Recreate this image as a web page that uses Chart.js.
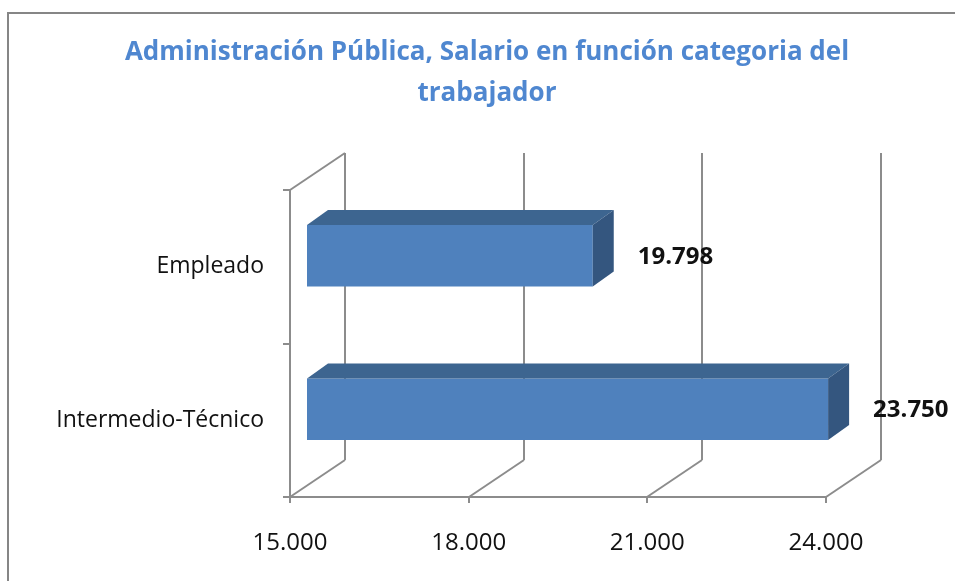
<!DOCTYPE html>
<html>
<head>
<meta charset="utf-8">
<script src="https://cdn.jsdelivr.net/npm/chart.js@4.4.1/dist/chart.umd.min.js"></script>
<style>
  body { margin: 0; background: #fff; }
</style>
</head>
<body>
<canvas id="myChart" width="955" height="581"></canvas>
<script>
var categories = ['Empleado', 'Intermedio-Técnico'];
var salaries = [19798, 23750];
var xTicks = [15000, 18000, 21000, 24000];
var titleLines = ['Administración Pública, Salario en función categoria del', 'trabajador'];

var FONT = "'Open Sans', sans-serif";
var WALL = { dx: 55, dy: -37 };   // depth of the back wall
var SHIFT = { dx: 17, dy: -11 };  // bar front face sits a bit inside
var DEPTH = { dx: 21, dy: -15 };  // bar thickness in depth

function fmt(v) {
    return String(v).replace(/\B(?=(\d{3})+(?!\d))/g, '.');
}

function line(ctx, x1, y1, x2, y2) {
    ctx.beginPath();
    ctx.moveTo(x1, y1);
    ctx.lineTo(x2, y2);
    ctx.stroke();
}

function poly(ctx, pts, color) {
    ctx.beginPath();
    ctx.moveTo(pts[0][0], pts[0][1]);
    for (var i = 1; i < pts.length; i++) ctx.lineTo(pts[i][0], pts[i][1]);
    ctx.closePath();
    ctx.fillStyle = color;
    ctx.fill();
}

// back wall, floor and axes of the 3d box
var box3d = {
    id: 'box3d',
    beforeDatasetsDraw: function (chart) {
        var ctx = chart.ctx, a = chart.chartArea, xs = chart.scales.x;
        ctx.save();
        ctx.strokeStyle = '#8c8c8c';
        ctx.lineWidth = 2;
        xTicks.forEach(function (v) {
            var px = Math.round(xs.getPixelForValue(v));
            line(ctx, px + WALL.dx, a.top + WALL.dy, px + WALL.dx, a.bottom + WALL.dy);
            line(ctx, px, a.bottom, px + WALL.dx, a.bottom + WALL.dy);
            line(ctx, px, a.bottom, px, a.bottom + 6);
        });
        line(ctx, a.left, a.top, a.left, a.bottom);
        line(ctx, a.left, a.top, a.left + WALL.dx, a.top + WALL.dy);
        line(ctx, a.left, a.bottom, a.right, a.bottom);
        var step = (a.bottom - a.top) / categories.length;
        for (var i = 0; i <= categories.length; i++) {
            var py = Math.round(a.top + i * step);
            line(ctx, a.left - 7, py, a.left, py);
        }
        ctx.restore();
        // shift the bar fronts into the box
        ctx.save();
        ctx.translate(SHIFT.dx, SHIFT.dy);
    },
    afterDatasetsDraw: function (chart) {
        var ctx = chart.ctx;
        ctx.restore();
        var meta = chart.getDatasetMeta(0);
        meta.data.forEach(function (el, i) {
            var b = el.getProps(['x', 'y', 'base', 'height'], true);
            var x0 = b.base + SHIFT.dx, x1 = b.x + SHIFT.dx;
            var y0 = b.y - b.height / 2 + SHIFT.dy, y1 = b.y + b.height / 2 + SHIFT.dy;
            poly(ctx, [[x0, y0], [x1, y0], [x1 + DEPTH.dx, y0 + DEPTH.dy], [x0 + DEPTH.dx, y0 + DEPTH.dy]], '#3d6590');
            poly(ctx, [[x1, y0], [x1 + DEPTH.dx, y0 + DEPTH.dy], [x1 + DEPTH.dx, y1 + DEPTH.dy], [x1, y1]], '#34567f');
            ctx.save();
            ctx.fillStyle = '#111';
            ctx.font = 'bold 24px ' + FONT;
            ctx.textAlign = 'left';
            ctx.textBaseline = 'middle';
            ctx.fillText(fmt(salaries[i]), b.x + 62, b.y + SHIFT.dy + 1);
            ctx.restore();
        });
    },
    afterDraw: function (chart) {
        var ctx = chart.ctx;
        ctx.save();
        ctx.strokeStyle = '#868686';
        ctx.lineWidth = 2;
        line(ctx, 8, 13, 8, chart.height);
        line(ctx, 7, 13, chart.width, 13);
        ctx.fillStyle = '#4f87d0';
        ctx.font = 'bold 26px ' + FONT;
        ctx.textAlign = 'center';
        ctx.textBaseline = 'middle';
        ctx.fillText(titleLines[0], 487, 53);
        ctx.fillText(titleLines[1], 487, 94);
        ctx.restore();
    }
};

var ctx = document.getElementById('myChart').getContext('2d');
var myChart = new Chart(ctx, {
    type: 'bar',
    data: {
        labels: categories,
        datasets: [{
            data: salaries,
            base: 15000,
            backgroundColor: '#4f81bd',
            borderWidth: 0,
            barPercentage: 0.4,
            categoryPercentage: 1.0
        }]
    },
    options: {
        indexAxis: 'y',
        responsive: false,
        animation: false,
        layout: { padding: { top: 190, right: 129, left: 0, bottom: 0 } },
        plugins: {
            legend: { display: false },
            tooltip: { enabled: false }
        },
        scales: {
            x: {
                min: 15000,
                max: 24000,
                afterBuildTicks: function (s) { s.ticks = xTicks.map(function (v) { return { value: v }; }); },
                afterFit: function (s) { s.height = 84; },
                grid: { display: false },
                border: { display: false },
                ticks: {
                    padding: 24,
                    color: '#111',
                    font: { family: FONT, size: 24 },
                    callback: function (v) { return fmt(v); }
                }
            },
            y: {
                afterFit: function (s) { s.width = 290; },
                grid: { display: false },
                border: { display: false },
                ticks: {
                    padding: 18,
                    color: '#111',
                    font: { family: FONT, size: 23 }
                }
            }
        }
    },
    plugins: [box3d]
});
</script>
</body>
</html>
